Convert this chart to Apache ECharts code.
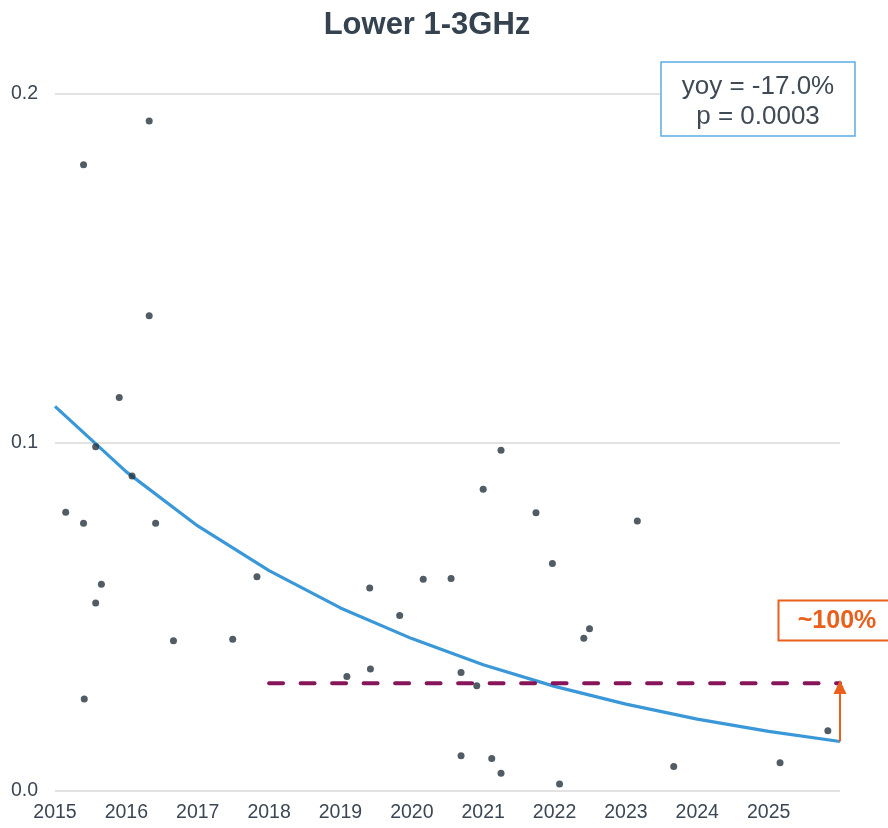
<!DOCTYPE html>
<html>
<head>
<meta charset="utf-8">
<script src="https://cdn.jsdelivr.net/npm/echarts@6/dist/echarts.min.js"></script>
<style>html,body{margin:0;padding:0;background:#fff;}#chart{width:888px;height:828px;}</style>
</head>
<body>
<div id="chart"></div>
<script>
// Scatter observations: [year, value]
var pointYears = [2015.15, 2015.40, 2015.40, 2015.41, 2015.57, 2015.57, 2015.65, 2015.90, 2016.08, 2016.32,
  2016.32, 2016.41, 2016.66, 2017.49, 2017.83, 2019.09, 2019.41, 2019.42, 2019.83, 2020.16,
  2020.55, 2020.69, 2020.69, 2020.91, 2021.00, 2021.12, 2021.25, 2021.25, 2021.74, 2021.97,
  2022.07, 2022.41, 2022.49, 2023.16, 2023.67, 2025.16, 2025.83];
var pointValues = [0.0799, 0.1796, 0.0768, 0.0264, 0.0987, 0.0539, 0.0593, 0.1128, 0.0903, 0.1921,
  0.1363, 0.0768, 0.0431, 0.0435, 0.0614, 0.0328, 0.0582, 0.0350, 0.0503, 0.0607,
  0.0609, 0.0340, 0.0101, 0.0302, 0.0865, 0.0093, 0.0977, 0.0051, 0.0798, 0.0652,
  0.0020, 0.0438, 0.0465, 0.0774, 0.0070, 0.0081, 0.0173];
// Fitted trend read at each year
var trendYears = [2015, 2016, 2017, 2018, 2019, 2020, 2021, 2022, 2023, 2024, 2025, 2026];
var trendValues = [0.1103, 0.0915, 0.0760, 0.0632, 0.0525, 0.0437, 0.0362, 0.0300, 0.0249, 0.0206, 0.0171, 0.0142];
// Reference (dashed) level
var refYears = [2018, 2026];
var refValue = 0.0309;
// Axis ticks
var yTicks = [0.0, 0.1, 0.2];
var xTickStart = 2015, xTickEnd = 2026;
var titleText = 'Lower 1-3GHz';
var statLines = ['yoy = -17.0%', 'p = 0.0003'];
var gapText = '~100%';

var scatterData = pointYears.map(function (x, i) { return [x, pointValues[i]]; });
var trendData = trendYears.map(function (x, i) { return [x, trendValues[i]]; });
var refData = refYears.map(function (x) { return [x, refValue]; });

var chart = echarts.init(document.getElementById('chart'), null, {renderer: 'canvas'});
var txt = '#3b4754';
chart.setOption({
  animation: false,
  backgroundColor: '#ffffff',
  textStyle: {fontFamily: 'Liberation Sans, Arial, sans-serif'},
  title: {
    text: titleText, left: 422, top: 5, textAlign: 'center',
    textStyle: {fontSize: 31, fontWeight: 'bold', color: '#34434f', fontFamily: 'Liberation Sans, Arial, sans-serif'}
  },
  grid: {left: 55, right: 48, top: 93.5, bottom: 37, containLabel: false},
  xAxis: {
    type: 'value', min: xTickStart, max: xTickEnd, interval: 1,
    axisLine: {show: false}, axisTick: {show: false}, splitLine: {show: false},
    axisLabel: {
      color: txt, fontSize: 19.5, margin: 12, showMaxLabel: false,
      formatter: function (v) { return v === xTickEnd ? '' : String(v); }
    }
  },
  yAxis: {
    type: 'value', min: yTicks[0], max: yTicks[yTicks.length - 1], interval: 0.1,
    axisLine: {show: false}, axisTick: {show: false},
    splitLine: {show: true, lineStyle: {color: '#d9d9d9', width: 1.5}},
    axisLabel: {color: txt, fontSize: 19.5, margin: 17, formatter: function (v) { return v.toFixed(1); }}
  },
  series: [
    {
      type: 'line', data: trendData, showSymbol: false, symbol: 'none', smooth: false,
      lineStyle: {color: '#3a98d8', width: 3.2}, z: 2
    },
    {
      type: 'line', data: refData, showSymbol: false, symbol: 'none',
      lineStyle: {color: '#86155a', width: 4, type: [14, 17.5], cap: 'round'}, z: 3
    },
    {
      type: 'scatter', data: scatterData, symbol: 'circle', symbolSize: 7,
      itemStyle: {color: '#26333f'}, z: 4
    },
    {
      type: 'line', data: [], z: 5,
      markLine: {
        silent: true, symbol: ['none', 'triangle'], symbolSize: [13, 14],
        label: {show: false},
        lineStyle: {color: '#e8601c', width: 2, type: 'solid'},
        data: [[{coord: [trendYears[trendYears.length - 1], trendValues[trendValues.length - 1]]},
                {coord: [refYears[1], refValue - 0.0011]}]]
      }
    }
  ],
  graphic: [
    {
      type: 'rect', shape: {x: 661, y: 62, width: 194, height: 74},
      style: {fill: '#ffffff', stroke: '#5aaee3', lineWidth: 1.5}, z: 10
    },
    {
      type: 'text', x: 758, y: 87, z: 11,
      style: {text: statLines[0], fill: '#404a55', font: '26px Liberation Sans, Arial, sans-serif', textAlign: 'center', textVerticalAlign: 'middle'}
    },
    {
      type: 'text', x: 758, y: 117, z: 11,
      style: {text: statLines[1], fill: '#404a55', font: '26px Liberation Sans, Arial, sans-serif', textAlign: 'center', textVerticalAlign: 'middle'}
    },
    {
      type: 'rect', shape: {x: 778.5, y: 600.5, width: 112, height: 40},
      style: {fill: '#ffffff', stroke: '#e8601c', lineWidth: 2}, z: 10
    },
    {
      type: 'text', x: 837, y: 621, z: 11,
      style: {text: gapText, fill: '#e8601c', font: 'bold 25px Liberation Sans, Arial, sans-serif', textAlign: 'center', textVerticalAlign: 'middle'}
    }
  ]
});
</script>
</body>
</html>
